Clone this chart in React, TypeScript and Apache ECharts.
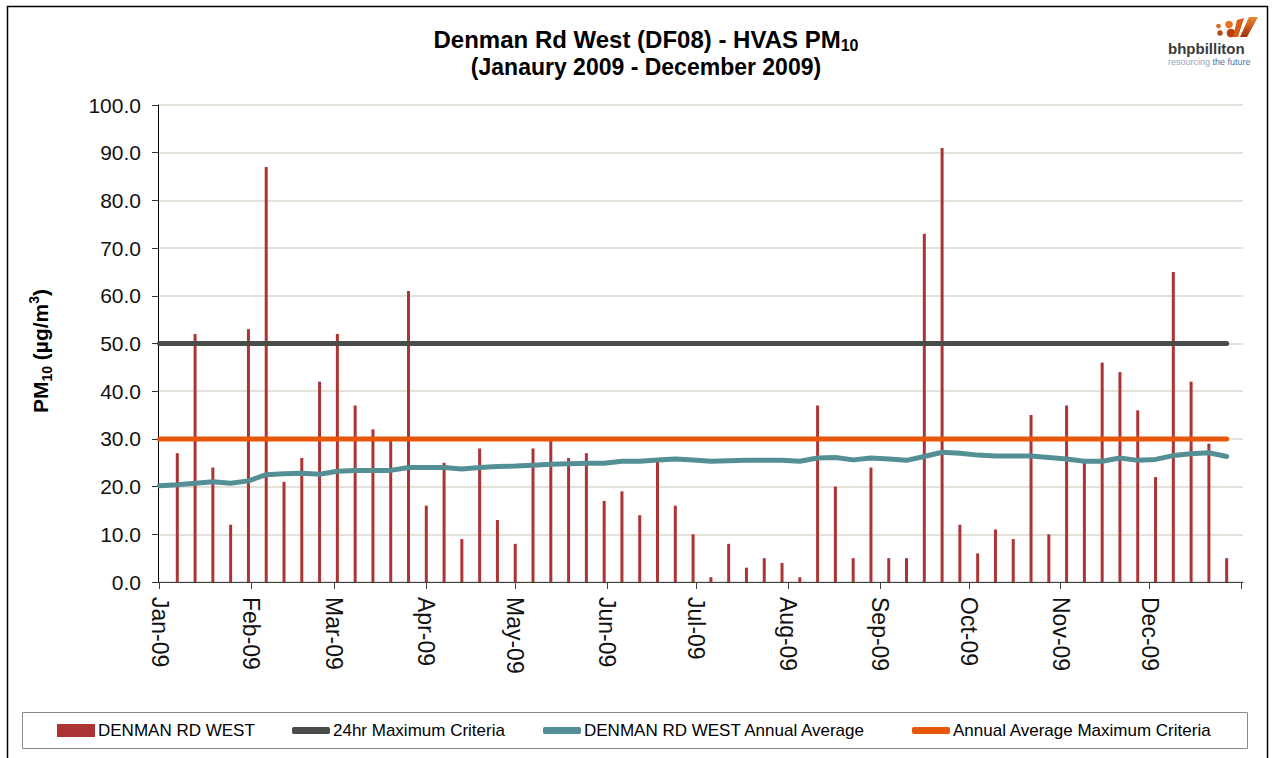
import React, { useEffect, useRef } from 'react';
import * as echarts from 'echarts';

const sampleDates = [
  '2009-01-07', '2009-01-13', '2009-01-19', '2009-01-25', '2009-01-31',
  '2009-02-06', '2009-02-12', '2009-02-18', '2009-02-24',
  '2009-03-02', '2009-03-08', '2009-03-14', '2009-03-20', '2009-03-26',
  '2009-04-01', '2009-04-07', '2009-04-13', '2009-04-19', '2009-04-25',
  '2009-05-01', '2009-05-07', '2009-05-13', '2009-05-19', '2009-05-25', '2009-05-31',
  '2009-06-06', '2009-06-12', '2009-06-18', '2009-06-24', '2009-06-30',
  '2009-07-06', '2009-07-12', '2009-07-18', '2009-07-24', '2009-07-30',
  '2009-08-05', '2009-08-11', '2009-08-17', '2009-08-23', '2009-08-29',
  '2009-09-04', '2009-09-10', '2009-09-16', '2009-09-22', '2009-09-28',
  '2009-10-04', '2009-10-10', '2009-10-16', '2009-10-22', '2009-10-28',
  '2009-11-03', '2009-11-09', '2009-11-15', '2009-11-21', '2009-11-27',
  '2009-12-03', '2009-12-09', '2009-12-15', '2009-12-21', '2009-12-27',
];

const pm10Values = [
  27, 52, 24, 12, 53,
  87, 21, 26, 42,
  52, 37, 32, 30, 61,
  16, 25, 9, 28, 13,
  8, 28, 30, 26, 27, 17,
  19, 14, 26, 16, 10,
  1, 8, 3, 5, 4,
  1, 37, 20, 5, 24,
  5, 5, 73, 91, 12,
  6, 11, 9, 35, 10,
  37, 25, 46, 44, 36,
  22, 65, 42, 29, 5,
];

const avgStartDate = '2009-01-01';
const avgStartValue = 20.2;
const avgValues = [
  20.4, 20.7, 21.0, 20.7, 21.2,
  22.5, 22.7, 22.8, 22.6,
  23.2, 23.4, 23.4, 23.4, 24.0,
  24.0, 24.0, 23.7, 24.0, 24.2,
  24.3, 24.5, 24.7, 24.8, 24.9, 24.9,
  25.3, 25.3, 25.6, 25.8, 25.6,
  25.3, 25.4, 25.5, 25.5, 25.5,
  25.3, 26.0, 26.1, 25.6, 26.0,
  25.8, 25.5, 26.3, 27.2, 27.0,
  26.6, 26.4, 26.4, 26.4, 26.1,
  25.8, 25.3, 25.3, 26.0, 25.5,
  25.7, 26.5, 26.9, 27.1, 26.3,
];

const criteriaStart = '2009-01-01';
const criteriaEnd = '2009-12-27';
const max24hrCriteria = 50;
const annualAvgCriteria = 30;

const axisMin = '2009-01-01';
const axisMax = '2010-01-01';
const yMin = 0;
const yMax = 100;
const yInterval = 10;

const monthNames = ['Jan', 'Feb', 'Mar', 'Apr', 'May', 'Jun', 'Jul', 'Aug', 'Sep', 'Oct', 'Nov', 'Dec'];

const seriesNames = [
  'DENMAN RD WEST',
  '24hr Maximum Criteria',
  'DENMAN RD WEST Annual Average',
  'Annual Average Maximum Criteria',
];

const FONT = '"Liberation Sans", Arial, Helvetica, sans-serif';

export default function App() {
  const ref = useRef<HTMLDivElement>(null);

  useEffect(() => {
    if (!ref.current) return;
    const chart = echarts.init(ref.current, undefined, { renderer: 'svg' });

    const barData = sampleDates.map((d, i) => [d, pm10Values[i]]);
    const avgData = [[avgStartDate, avgStartValue], ...sampleDates.map((d, i) => [d, avgValues[i]])];
    const maxData = [[criteriaStart, max24hrCriteria], [criteriaEnd, max24hrCriteria]];
    const annData = [[criteriaStart, annualAvgCriteria], [criteriaEnd, annualAvgCriteria]];

    const legendLefts = [57, 292, 543, 912];

    const option: any = {
      animation: false,
      backgroundColor: '#ffffff',
      textStyle: { fontFamily: FONT },
      grid: { left: 158, right: 30, top: 105, bottom: 176, containLabel: false },
      legend: seriesNames.map((name, i) => ({
        data: [{ name, icon: i === 0 ? 'rect' : 'roundRect' }],
        left: legendLefts[i],
        top: 722,
        padding: 0,
        itemWidth: 38,
        itemHeight: i === 0 ? 13 : 7,
        selectedMode: false,
        textStyle: { fontSize: 17, color: '#000', fontFamily: FONT, padding: [0, 0, 0, -2] },
      })),
      xAxis: {
        type: 'time',
        min: axisMin,
        max: axisMax,
        minInterval: 28 * 86400000,
        maxInterval: 31 * 86400000,
        splitLine: { show: false },
        axisLine: { show: true, lineStyle: { color: '#404040', width: 1 } },
        axisTick: { show: true, length: 7, lineStyle: { color: '#404040', width: 1 } },
        axisLabel: {
          rotate: -90,
          margin: 15,
          fontSize: 23,
          color: '#111',
          fontFamily: FONT,
          showMaxLabel: false,
          hideOverlap: false,
          formatter: (value: number) => {
            const d = new Date(value);
            if (d.getFullYear() > 2009) return '';
            return monthNames[d.getMonth()] + '-' + String(d.getFullYear()).slice(2);
          },
        },
      },
      yAxis: {
        type: 'value',
        min: yMin,
        max: yMax,
        interval: yInterval,
        axisLine: { show: true, lineStyle: { color: '#000', width: 1 } },
        axisTick: { show: true, length: 6, lineStyle: { color: '#333' } },
        axisLabel: {
          fontSize: 21,
          color: '#111',
          margin: 17,
          fontFamily: FONT,
          formatter: (v: number) => v.toFixed(1),
        },
        splitLine: { show: true, lineStyle: { color: '#D9D9CE', width: 1.5 } },
      },
      series: [
        {
          name: seriesNames[0],
          type: 'bar',
          data: barData,
          barWidth: 3,
          itemStyle: { color: '#AD3434' },
          z: 2,
        },
        {
          name: seriesNames[1],
          type: 'line',
          data: maxData,
          symbol: 'none',
          lineStyle: { color: '#4A4C49', width: 5, cap: 'round' },
          itemStyle: { color: '#4A4C49' },
          z: 3,
        },
        {
          name: seriesNames[2],
          type: 'line',
          data: avgData,
          symbol: 'none',
          lineStyle: { color: '#558F96', width: 5, cap: 'round', join: 'round' },
          itemStyle: { color: '#558F96' },
          z: 4,
        },
        {
          name: seriesNames[3],
          type: 'line',
          data: annData,
          symbol: 'none',
          lineStyle: { color: '#E8560A', width: 5, cap: 'round' },
          itemStyle: { color: '#E8560A' },
          z: 5,
        },
      ],
      graphic: [
        {
          type: 'rect',
          silent: true,
          shape: { x: 7.5, y: 6.5, width: 1260, height: 800 },
          style: { fill: 'none', stroke: '#000', lineWidth: 1.5 },
          z: 100,
        },
        {
          type: 'rect',
          silent: true,
          shape: { x: 22.5, y: 712.5, width: 1225, height: 36 },
          style: { fill: 'none', stroke: '#8a8a8a', lineWidth: 1 },
          z: 100,
        },
        {
          type: 'text',
          silent: true,
          x: 646,
          y: 39,
          style: {
            text: 'Denman Rd West (DF08) - HVAS PM{sub|10}',
            textAlign: 'center',
            textVerticalAlign: 'middle',
            font: 'bold 24px ' + FONT,
            fill: '#000',
            rich: {
              sub: { fontSize: 16, fontWeight: 'bold', fontFamily: FONT, verticalAlign: 'bottom', lineHeight: 17, fill: '#000' },
            },
            lineHeight: 29,
          },
        },
        {
          type: 'text',
          silent: true,
          x: 646,
          y: 67,
          style: {
            text: '(Janaury 2009 - December 2009)',
            textAlign: 'center',
            textVerticalAlign: 'middle',
            font: 'bold 23px ' + FONT,
            fill: '#000',
          },
        },
        {
          type: 'text',
          silent: true,
          x: 40,
          y: 351,
          rotation: Math.PI / 2,
          style: {
            text: 'PM{sub|10} (µg/m{sup|3})',
            textAlign: 'center',
            textVerticalAlign: 'middle',
            font: 'bold 21px ' + FONT,
            fill: '#000',
            lineHeight: 27,
            rich: {
              sub: { fontSize: 14, fontWeight: 'bold', fontFamily: FONT, verticalAlign: 'bottom', lineHeight: 16, fill: '#000' },
              sup: { fontSize: 14, fontWeight: 'bold', fontFamily: FONT, verticalAlign: 'top', lineHeight: 16, fill: '#000' },
            },
          },
        },
        // logo
        {
          type: 'group',
          silent: true,
          children: [
            { type: 'circle', shape: { cx: 1218.5, cy: 26, r: 2.3 }, style: { fill: '#E06A1E' } },
            { type: 'circle', shape: { cx: 1220, cy: 33, r: 2.8 }, style: { fill: '#C24A12' } },
            { type: 'circle', shape: { cx: 1229, cy: 24.5, r: 3.8 }, style: { fill: '#E67422' } },
            { type: 'circle', shape: { cx: 1231, cy: 33, r: 4.3 }, style: { fill: '#B93F10' } },
            {
              type: 'polygon',
              shape: { points: [[1237, 20], [1244, 18], [1238, 37], [1233, 37]] },
              style: { fill: '#D85E18' },
            },
            {
              type: 'polygon',
              shape: { points: [[1249, 17], [1258, 17], [1247, 37], [1240, 37]] },
              style: {
                fill: new echarts.graphic.LinearGradient(0, 0, 0, 1, [
                  { offset: 0, color: '#EE8A2E' },
                  { offset: 1, color: '#9E2E0C' },
                ]),
              },
            },
            {
              type: 'text',
              x: 1168,
              y: 48,
              style: {
                text: 'bhpbilliton',
                textVerticalAlign: 'middle',
                font: 'bold 15px ' + FONT,
                fill: '#3A3A3A',
              },
            },
            {
              type: 'text',
              x: 1168,
              y: 62,
              style: {
                text: '{a|resourcing} {b|the future}',
                textVerticalAlign: 'middle',
                font: '9px ' + FONT,
                rich: {
                  a: { fontSize: 9, fill: '#8FA6C4', fontFamily: FONT },
                  b: { fontSize: 9, fill: '#4F73A8', fontFamily: FONT },
                },
              },
            },
          ],
        },
      ],
    };

    chart.setOption(option);
    return () => chart.dispose();
  }, []);

  return (
    <div
      ref={ref}
      style={{ position: 'absolute', left: 0, top: 0, width: 1273, height: 758, background: '#fff' }}
    />
  );
}
